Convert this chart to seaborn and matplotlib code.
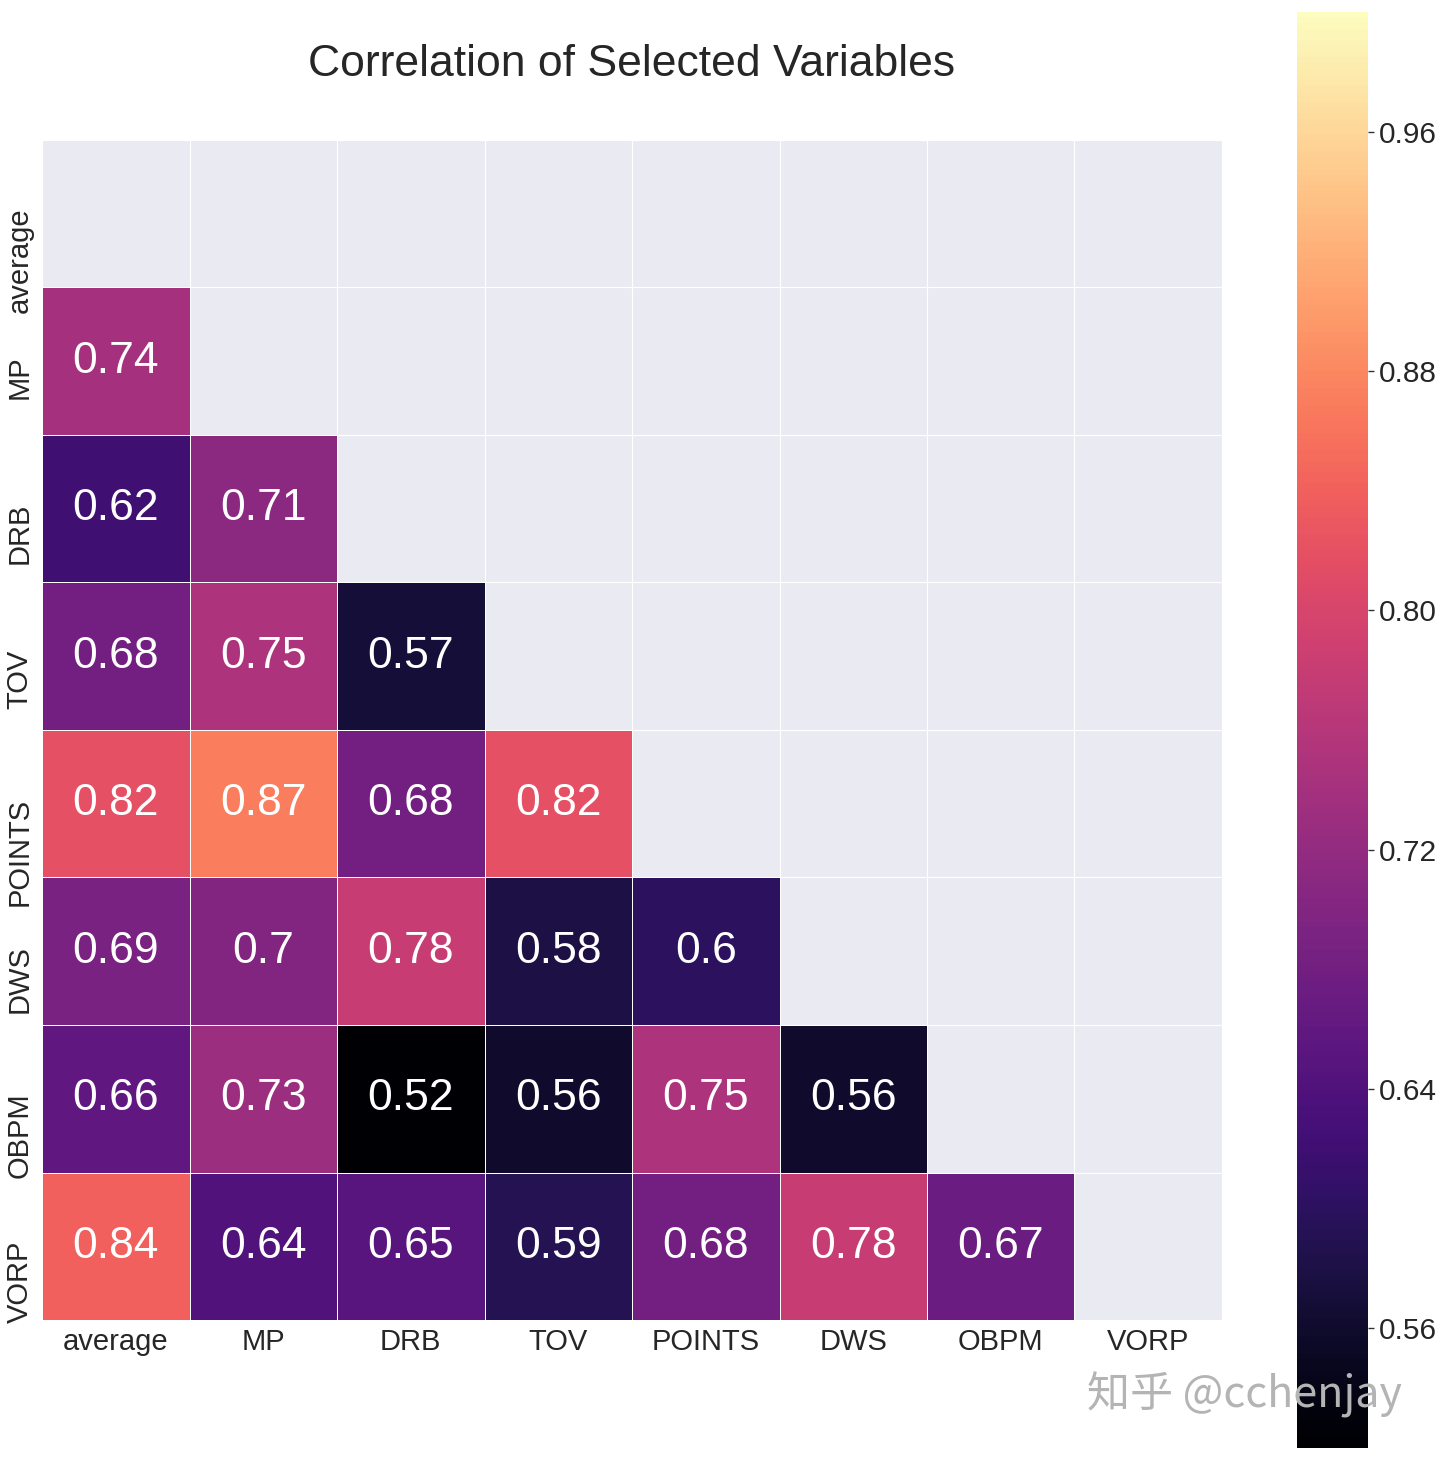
import numpy as np
import pandas as pd
import seaborn as sns
import matplotlib.pyplot as plt
import matplotlib.transforms as mtransforms

# variables in the correlation matrix
labels = ['average', 'MP', 'DRB', 'TOV', 'POINTS', 'DWS', 'OBPM', 'VORP']

# lower triangle rows
row_mp = [0.74]
row_drb = [0.62, 0.71]
row_tov = [0.68, 0.75, 0.57]
row_points = [0.82, 0.87, 0.68, 0.82]
row_dws = [0.69, 0.70, 0.78, 0.58, 0.60]
row_obpm = [0.66, 0.73, 0.52, 0.56, 0.75, 0.56]
row_vorp = [0.84, 0.64, 0.65, 0.59, 0.68, 0.78, 0.67]

cbar_ticks = [0.56, 0.64, 0.72, 0.80, 0.88, 0.96]


def build_corr():
	rows = [[], row_mp, row_drb, row_tov, row_points, row_dws, row_obpm, row_vorp]
	n = len(labels)
	corr = np.ones((n, n))
	for i, r in enumerate(rows):
		for j, v in enumerate(r):
			corr[i, j] = v
			corr[j, i] = v
	return pd.DataFrame(corr, index=labels, columns=labels)


corr = build_corr()
mask = np.triu(np.ones_like(corr.values, dtype=bool))

sns.set_style("darkgrid")
plt.rcParams['font.family'] = ['Liberation Sans', 'DejaVu Sans']

fig = plt.figure(figsize=(14.4, 14.61), dpi=100)
ax = fig.add_axes([0.0292, 0.0965, 0.8194, 0.8077])
cax = fig.add_axes([0.9007, 0.0089, 0.0493, 0.9829])

sns.heatmap(corr, mask=mask, cmap='magma', vmax=1.0, annot=True, fmt='.2g',
			annot_kws={'size': 32}, linewidths=0.6, linecolor='white',
			square=False, ax=ax, cbar_ax=cax, cbar_kws={'ticks': cbar_ticks})

# grid lines on the cell borders in the masked part
n = len(labels)
ax.set_xticks(np.arange(n + 1), minor=True)
ax.set_yticks(np.arange(n + 1), minor=True)
ax.grid(False, which='major')
ax.grid(True, which='minor', color='white', linewidth=0.8)
ax.tick_params(which='both', length=0)
ax.tick_params(axis='x', pad=6)
ax.tick_params(axis='y', pad=6)
ax.set_xticklabels(labels, fontsize=21)
ax.set_yticklabels(labels, fontsize=21, rotation=90, va='top')

# y labels hang down from just above the row centre
shift = mtransforms.ScaledTranslation(0, 6 / 100, fig.dpi_scale_trans)
for lbl in ax.get_yticklabels():
	lbl.set_transform(lbl.get_transform() + shift)

ax.set_title('Correlation of Selected Variables', fontsize=32, pad=46)

cax.tick_params(labelsize=21.5, right=True, length=4, width=1, color='#333333')
cax.set_yticklabels(['%.2f' % t for t in cbar_ticks])

# watermark
fig.text(0.755, 0.045, '知乎 @cchenjay', fontsize=31, color='#b4b4b4',
		 family=['Noto Sans CJK SC', 'DejaVu Sans'], va='center')

fig.savefig('out.png', dpi=100)
